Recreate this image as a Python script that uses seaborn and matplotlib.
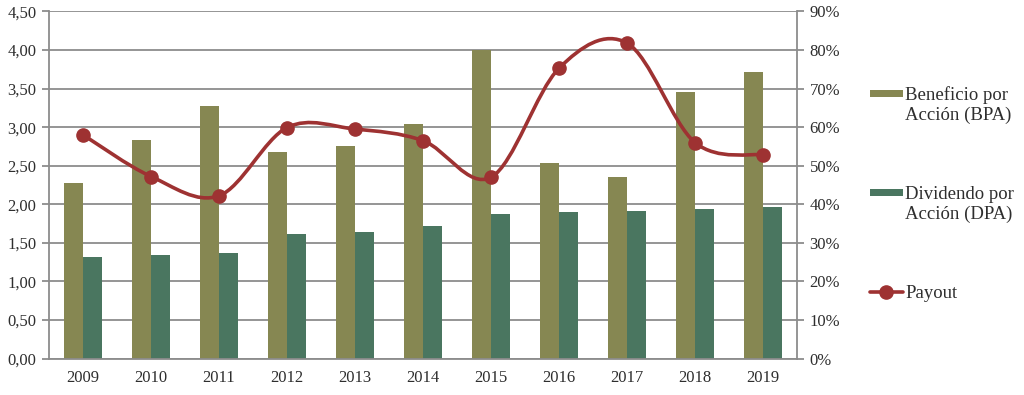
import numpy as np
import pandas as pd
import matplotlib
matplotlib.use("Agg")
import matplotlib.pyplot as plt
import seaborn as sns
from matplotlib.path import Path
from matplotlib.patches import PathPatch, Rectangle
from matplotlib.lines import Line2D
from matplotlib.legend_handler import HandlerPatch
from matplotlib.ticker import FuncFormatter, FixedLocator

years = ["2009", "2010", "2011", "2012", "2013", "2014", "2015", "2016", "2017", "2018", "2019"]
bpa = [2.27, 2.84, 3.28, 2.68, 2.76, 3.04, 4.00, 2.53, 2.35, 3.46, 3.72]
dpa = [1.32, 1.34, 1.37, 1.61, 1.64, 1.72, 1.88, 1.905, 1.91, 1.935, 1.96]
payout = [0.580, 0.472, 0.422, 0.599, 0.595, 0.565, 0.470, 0.753, 0.818, 0.560, 0.528]

lbl_bpa = "Beneficio por\nAcción (BPA)"
lbl_dpa = "Dividendo por\nAcción (DPA)"
lbl_pay = "Payout"

c_bpa = "#868752"
c_dpa = "#4A7660"
c_pay = "#9E3232"
c_grid = "#8C8C8C"
c_txt = "#2E2E2E"

sns.set_theme(style="white")
plt.rcParams["font.family"] = ["Liberation Serif", "DejaVu Serif"]

df = pd.DataFrame({"year": years, lbl_bpa: bpa, lbl_dpa: dpa})
df_long = df.melt(id_vars="year", var_name="serie", value_name="valor")

fig = plt.figure(figsize=(10.24, 3.95), dpi=100)
ax = fig.add_axes([0.0479, 0.0924, 0.7305, 0.8785])

sns.barplot(data=df_long, x="year", y="valor", hue="serie",
            palette=[c_bpa, c_dpa], width=0.57, gap=0, saturation=1,
            edgecolor="none", linewidth=0,
            legend=False, ax=ax, zorder=2)

ax.set_xlim(-0.5, len(years) - 0.5)
ax.set_ylim(0, 4.5)
ax.set_yticks(np.arange(0, 4.51, 0.5))
ax.yaxis.set_major_formatter(FuncFormatter(lambda v, p: f"{v:.2f}".replace(".", ",")))
ax.set_xlabel("")
ax.set_ylabel("")
ax.yaxis.grid(True, color=c_grid, linewidth=1.3, zorder=0)
ax.set_axisbelow(True)

ax.xaxis.set_minor_locator(FixedLocator(np.arange(-0.5, len(years), 1.0)))
ax.tick_params(axis="x", which="major", length=0, labelsize=12, labelcolor=c_txt, pad=8)
ax.tick_params(axis="x", which="minor", length=5, width=1.3, color=c_grid, direction="out")
ax.tick_params(axis="y", length=5, width=1.3, color=c_grid, direction="out",
               labelsize=12, labelcolor=c_txt, left=True, pad=4)

for s in ["left", "bottom"]:
    ax.spines[s].set_color(c_grid)
    ax.spines[s].set_linewidth(1.3)
ax.spines["top"].set_visible(False)
ax.spines["right"].set_visible(False)

ax2 = ax.twinx()
ax2.set_ylim(0, 0.9)
ax2.set_yticks(np.arange(0, 0.91, 0.1))
ax2.yaxis.set_major_formatter(FuncFormatter(lambda v, p: f"{v * 100:.0f}%"))
ax2.tick_params(axis="y", length=5, width=1.3, color=c_grid, direction="out",
                labelsize=12, labelcolor=c_txt, pad=4)
ax2.grid(False)
for s in ["top", "left", "bottom"]:
    ax2.spines[s].set_visible(False)
ax2.spines["right"].set_color(c_grid)
ax2.spines["right"].set_linewidth(1.3)

# smoothed line (bezier through the data points, like a spreadsheet "smooth line")
xs = np.arange(len(payout), dtype=float)
ys = np.array(payout)
pts = np.column_stack([xs, ys])
verts = [pts[0]]
codes = [Path.MOVETO]
n = len(pts)
for i in range(n - 1):
    p0 = pts[max(i - 1, 0)]
    p1 = pts[i]
    p2 = pts[i + 1]
    p3 = pts[min(i + 2, n - 1)]
    c1 = p1 + (p2 - p0) / 6.0
    c2 = p2 - (p3 - p1) / 6.0
    verts += [c1, c2, p2]
    codes += [Path.CURVE4] * 3
ax2.add_patch(PathPatch(Path(verts, codes), facecolor="none", edgecolor=c_pay,
                        linewidth=2.6, zorder=3))
ax2.plot(xs, ys, linestyle="none", marker="o", markersize=9.5, color=c_pay, zorder=4)


def bar_handle(legend, orig_handle, xdescent, ydescent, width, height, fontsize):
    h = 5.0
    shift = 8.5
    return Rectangle((-xdescent, -ydescent + height / 2 - h / 2 + shift), width, h)


handles = [
    Rectangle((0, 0), 1, 1, facecolor=c_bpa, edgecolor="none"),
    Rectangle((0, 0), 1, 1, facecolor=c_dpa, edgecolor="none"),
    Line2D([0], [0], color=c_pay, linewidth=2.6, marker="o", markersize=9.5),
]
fig.legend(handles, [lbl_bpa, lbl_dpa, lbl_pay], loc="upper left",
           bbox_to_anchor=(0.840, 0.805), frameon=False, fontsize=13.5,
           handlelength=1.8, handletextpad=0.1, labelspacing=3.3,
           borderpad=0, labelcolor=c_txt,
           handler_map={Rectangle: HandlerPatch(patch_func=bar_handle)})

fig.savefig("out.png", dpi=100)
